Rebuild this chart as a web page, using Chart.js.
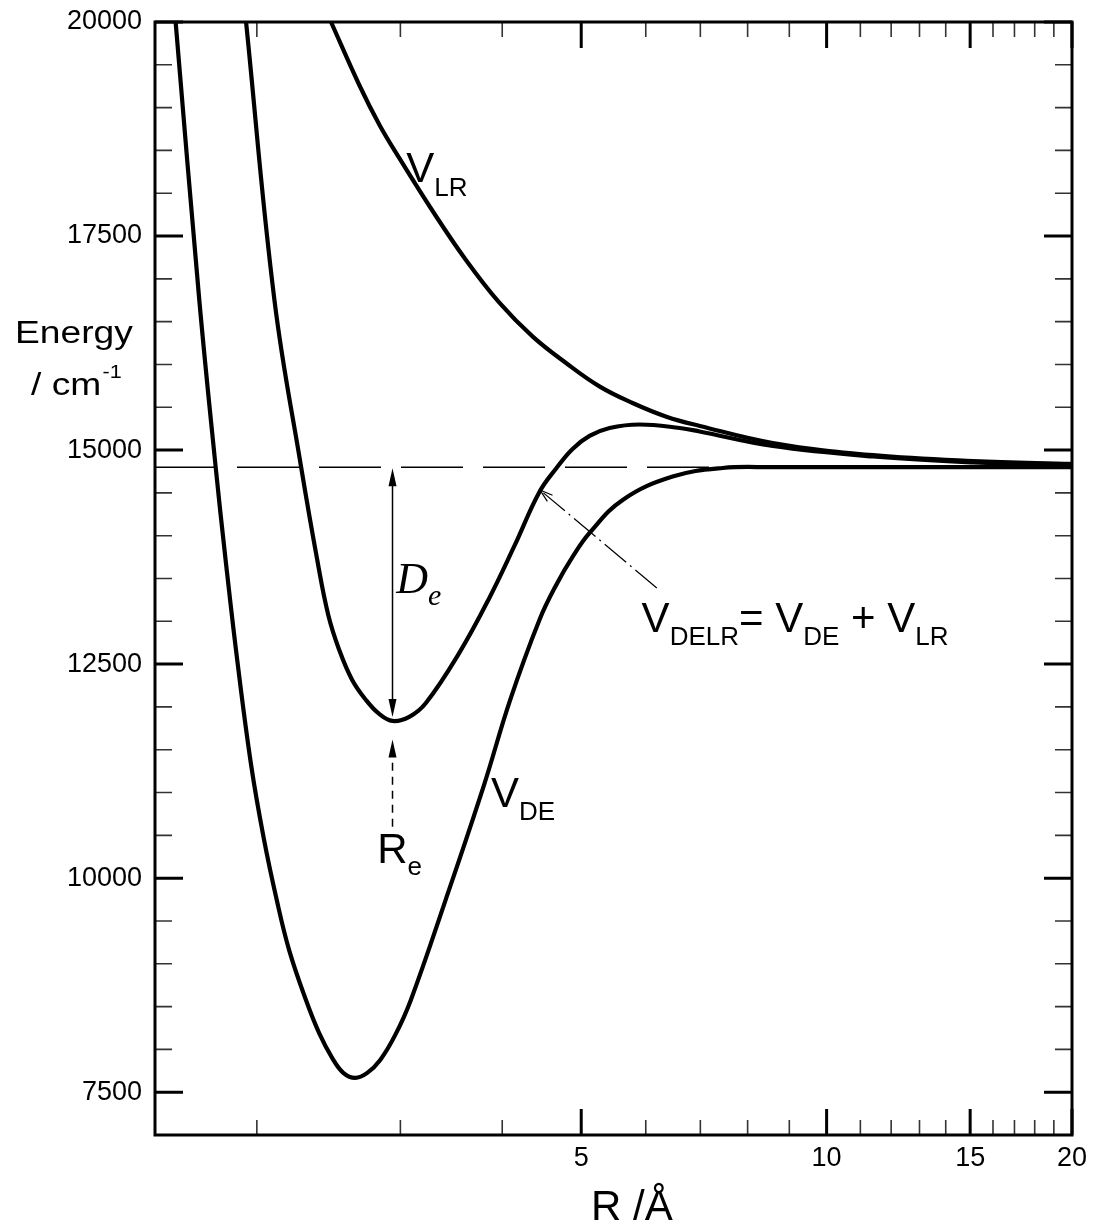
<!DOCTYPE html>
<html>
<head>
    <title>DELR potential</title>
    <script src="https://cdn.jsdelivr.net/npm/chart.js"></script>
    <style>
        body {
            margin: 0;
            background-color: #fff;
        }
        canvas {
            display: block;
        }
    </style>
</head>
<body>
    <canvas id="potChart" width="1093" height="1228"></canvas>

    <script>
        // values: R in Angstrom, energy in cm-1
        const rDE   = [1.59, 1.70, 1.78, 1.831, 1.892, 1.968, 2.039, 2.115, 2.191, 2.297, 2.385, 2.474, 2.553, 2.641, 2.732, 2.834, 2.957, 3.09, 3.41, 3.80, 4.09, 4.443, 4.659, 4.879, 5.119, 5.621, 6.473, 7.457, 8.59, 20];
        const eDE   = [20000, 16750, 14810, 13720, 12550, 11320, 10470, 9750, 9160, 8580, 8190, 7901, 7726, 7667, 7726, 7877, 8169, 8578, 9750, 11090, 12080, 13016, 13425, 13752, 14032, 14418, 14690, 14791, 14800, 14800];

        const rDELR = [1.94, 2.102, 2.266, 2.372, 2.447, 2.524, 2.618, 2.722, 2.826, 2.934, 3.076, 3.224, 3.543, 3.857, 4.14, 4.443, 4.663, 4.879, 5.119, 5.417, 5.897, 6.603, 6.986, 8.59, 11.4, 15.13, 20];
        const eDELR = [20000, 16750, 14806, 13717, 13074, 12666, 12315, 12081, 11918, 11836, 11884, 12046, 12631, 13273, 13880, 14511, 14791, 15013, 15165, 15258, 15299, 15258, 15217, 15048, 14925, 14855, 14820];

        const rLR   = [2.466, 2.671, 2.826, 2.99, 3.28, 3.61, 3.97, 4.36, 4.79, 5.27, 5.78, 6.36, 6.99, 8.59, 11.4, 15.13, 20];
        const eLR   = [20000, 19264, 18803, 18412, 17804, 17220, 16718, 16325, 16017, 15741, 15550, 15390, 15282, 15083, 14940, 14871, 14839];

        const asymptote = 14800;
        const reValue = 2.934;

        const xMajorTicks = [5, 10, 15, 20];
        const xMinorTicks = [2, 3, 4, 6, 7, 8, 9, 11, 12, 13, 14, 16, 17, 18, 19];
        const yMajorTicks = [7500, 10000, 12500, 15000, 17500, 20000];
        const yMinorTicks = [8000, 8500, 9000, 9500, 10500, 11000, 11500, 12000, 13000, 13500, 14000, 14500,
                             15500, 16000, 16500, 17000, 18000, 18500, 19000, 19500];

        const SANS = '"Liberation Sans", Arial, sans-serif';
        const SERIF = '"Liberation Serif", "Times New Roman", serif';

        function pts(xs, ys) {
            return xs.map((v, i) => ({ x: v, y: ys[i] }));
        }

        function curve(xs, ys) {
            return {
                data: pts(xs, ys),
                borderColor: '#000',
                borderWidth: 4.2,
                pointRadius: 0,
                fill: false,
                tension: 0.4
            };
        }

        // draws text runs one after another, e.g. V + subscript
        function runs(ctx, x, y, parts) {
            let cx = x;
            parts.forEach(p => {
                ctx.font = (p.italic ? 'italic ' : '') + p.size + 'px ' + (p.serif ? SERIF : SANS);
                ctx.fillText(p.t, cx, y + (p.dy || 0));
                cx += ctx.measureText(p.t).width;
            });
        }

        function arrowHead(ctx, tx, ty, ang, len, half, filled) {
            ctx.beginPath();
            ctx.moveTo(tx + Math.cos(ang + Math.PI) * len - Math.sin(ang) * half,
                       ty + Math.sin(ang + Math.PI) * len + Math.cos(ang) * half);
            ctx.lineTo(tx, ty);
            ctx.lineTo(tx + Math.cos(ang + Math.PI) * len + Math.sin(ang) * half,
                       ty + Math.sin(ang + Math.PI) * len - Math.cos(ang) * half);
            if (filled) {
                ctx.closePath();
                ctx.fill();
            } else {
                ctx.stroke();
            }
        }

        const overlay = {
            id: 'overlay',
            afterDatasetsDraw(chart) {
                const { ctx, chartArea: a, scales: { x, y } } = chart;
                ctx.save();
                ctx.strokeStyle = '#000';
                ctx.fillStyle = '#000';
                ctx.lineCap = 'butt';

                // ticks pointing inwards on all four sides
                function xt(v, len, w) {
                    const px = x.getPixelForValue(v);
                    ctx.lineWidth = w;
                    ctx.beginPath();
                    ctx.moveTo(px, a.bottom); ctx.lineTo(px, a.bottom - len);
                    ctx.moveTo(px, a.top); ctx.lineTo(px, a.top + len);
                    ctx.stroke();
                }
                function yt(v, len, w) {
                    const py = y.getPixelForValue(v);
                    ctx.lineWidth = w;
                    ctx.beginPath();
                    ctx.moveTo(a.left, py); ctx.lineTo(a.left + len, py);
                    ctx.moveTo(a.right, py); ctx.lineTo(a.right - len, py);
                    ctx.stroke();
                }
                ctx.strokeStyle = '#333';
                xMinorTicks.forEach(v => xt(v, 15, 1.6));
                yMinorTicks.forEach(v => yt(v, 17, 1.6));
                ctx.strokeStyle = '#000';
                xMajorTicks.forEach(v => xt(v, 26, 3));
                yMajorTicks.forEach(v => yt(v, 28, 3));

                ctx.lineWidth = 3;
                ctx.strokeRect(a.left, a.top, a.right - a.left, a.bottom - a.top);

                // D_e double arrow
                const reX = x.getPixelForValue(reValue);
                const minY = y.getPixelForValue(Math.min(...eDELR));
                const asyY = y.getPixelForValue(asymptote);
                ctx.lineWidth = 1.5;
                ctx.beginPath();
                ctx.moveTo(reX, asyY + 10);
                ctx.lineTo(reX, minY - 12);
                ctx.stroke();
                arrowHead(ctx, reX, asyY + 1, -Math.PI / 2, 18, 4, true);
                arrowHead(ctx, reX, minY - 4, Math.PI / 2, 18, 4, true);

                // R_e dashed arrow
                const reTip = y.getPixelForValue(11620);
                const reTail = y.getPixelForValue(10600);
                ctx.setLineDash([8, 6]);
                ctx.beginPath();
                ctx.moveTo(reX, reTail);
                ctx.lineTo(reX, reTip + 12);
                ctx.stroke();
                ctx.setLineDash([]);
                arrowHead(ctx, reX, reTip, -Math.PI / 2, 18, 4, true);

                // dash-dot pointer to V_DELR
                const p0x = x.getPixelForValue(6.19), p0y = y.getPixelForValue(13390);
                const p1x = x.getPixelForValue(4.45), p1y = y.getPixelForValue(14534);
                ctx.lineWidth = 1.2;
                ctx.setLineDash([28, 5, 2, 5]);
                ctx.beginPath();
                ctx.moveTo(p0x, p0y);
                ctx.lineTo(p1x, p1y);
                ctx.stroke();
                ctx.setLineDash([]);
                const ang = Math.atan2(p1y - p0y, p1x - p0x);
                arrowHead(ctx, p1x, p1y, ang, 13, 4, false);

                // labels
                ctx.textAlign = 'left';
                ctx.textBaseline = 'alphabetic';
                runs(ctx, x.getPixelForValue(3.05), y.getPixelForValue(18135), [
                    { t: 'V', size: 42 }, { t: 'LR', size: 26, dy: 14 }
                ]);
                runs(ctx, x.getPixelForValue(3.875), y.getPixelForValue(10835), [
                    { t: 'V', size: 42 }, { t: 'DE', size: 26, dy: 13 }
                ]);
                runs(ctx, x.getPixelForValue(5.93), y.getPixelForValue(12880), [
                    { t: 'V', size: 42 }, { t: 'DELR', size: 26, dy: 13 },
                    { t: '= V', size: 42 }, { t: 'DE', size: 26, dy: 13 },
                    { t: ' + V', size: 42 }, { t: 'LR', size: 26, dy: 13 }
                ]);
                runs(ctx, x.getPixelForValue(2.81), y.getPixelForValue(10180), [
                    { t: 'R', size: 42 }, { t: 'e', size: 26, dy: 12 }
                ]);
                runs(ctx, x.getPixelForValue(2.965), y.getPixelForValue(13330), [
                    { t: 'D', size: 44, italic: true, serif: true },
                    { t: 'e', size: 30, italic: true, serif: true, dy: 12 }
                ]);

                // axis titles
                ctx.save();
                ctx.translate(15, 343);
                ctx.scale(1.2, 1);
                ctx.font = '31px ' + SANS;
                ctx.fillText('Energy', 0, 0);
                ctx.restore();
                ctx.save();
                ctx.translate(31, 395);
                ctx.scale(1.2, 1);
                ctx.font = '31px ' + SANS;
                ctx.fillText('/ cm', 0, 0);
                const w = ctx.measureText('/ cm').width;
                ctx.font = '18px ' + SANS;
                ctx.fillText('-1', w + 1, -17);
                ctx.restore();

                ctx.font = '42px ' + SANS;
                ctx.fillText('R /Å', 591, 1220);

                ctx.restore();
            }
        };

        const tickFont = { size: 27, family: SANS };

        new Chart(document.getElementById('potChart').getContext('2d'), {
            type: 'line',
            data: {
                datasets: [
                    curve(rDE, eDE),
                    curve(rDELR, eDELR),
                    curve(rLR, eLR),
                    {
                        data: pts([1.5, 20], [asymptote, asymptote]),
                        borderColor: '#000',
                        borderWidth: 1.6,
                        borderDash: [62, 20],
                        pointRadius: 0,
                        fill: false
                    }
                ]
            },
            options: {
                responsive: false,
                animation: false,
                layout: { padding: { top: 22, right: 21, left: 0, bottom: 0 } },
                plugins: {
                    legend: { display: false },
                    tooltip: { enabled: false }
                },
                scales: {
                    x: {
                        type: 'logarithmic',
                        min: 1.5,
                        max: 20,
                        grid: { display: false, drawTicks: false, tickLength: 0 },
                        border: { display: false },
                        afterFit: s => {
                            s.height = 93;
                            s.paddingLeft = 0;
                            s.paddingRight = 0;
                        },
                        afterBuildTicks: s => { s.ticks = xMajorTicks.map(v => ({ value: v })); },
                        ticks: {
                            autoSkip: false,
                            maxRotation: 0,
                            padding: 7,
                            color: '#000',
                            font: tickFont,
                            callback: v => String(v)
                        }
                    },
                    y: {
                        type: 'linear',
                        min: 7000,
                        max: 20000,
                        grid: { display: false, drawTicks: false, tickLength: 0 },
                        border: { display: false },
                        afterFit: s => {
                            s.width = 155;
                            s.paddingTop = 0;
                            s.paddingBottom = 0;
                        },
                        afterBuildTicks: s => { s.ticks = yMajorTicks.map(v => ({ value: v })); },
                        ticks: {
                            padding: 13,
                            color: '#000',
                            font: tickFont,
                            callback: v => String(v)
                        }
                    }
                }
            },
            plugins: [overlay]
        });
    </script>
</body>
</html>
